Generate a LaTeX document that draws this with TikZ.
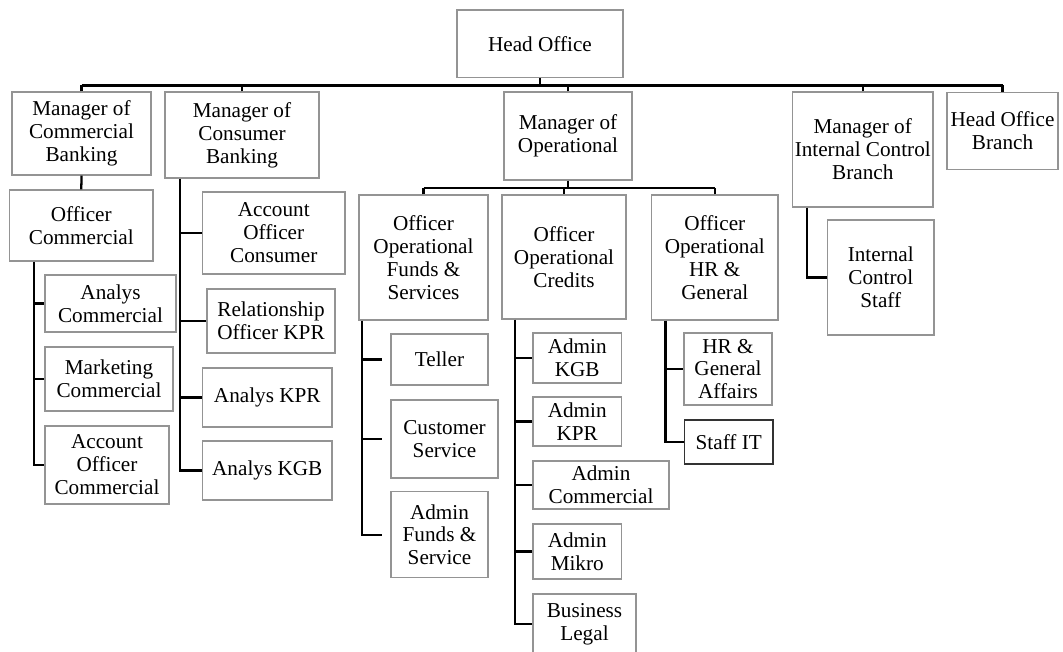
\documentclass[tikz,border=0pt]{standalone}
\usepackage{fontspec}
\setmainfont{Liberation Serif}

\tikzset{every picture/.style={line width=0.75pt}}
\tikzset{
  box/.style={draw=black!42, line width=0.9pt, align=center, inner sep=0.75pt,
    font=\fontsize{15.9}{17.2}\selectfont},
  wh/.style 2 args={minimum width=#1*0.75pt, minimum height=#2*0.75pt},
  link/.style={line width=1.7pt},
}

\begin{document}
\begin{tikzpicture}[x=0.75pt,y=0.75pt,yscale=-1,xscale=1]
    \useasboundingbox (0,0) rectangle (1063,652);
    % bus lines and spines
    \coordinate (bus) at (0,85.5);
    \coordinate (opbus) at (0,188);
    \coordinate (cmx) at (34,0);
    \coordinate (csx) at (180,0);
    \coordinate (fsx) at (362,0);
    \coordinate (crx) at (515,0);
    \coordinate (hrx) at (665.4,0);
    \coordinate (icx) at (806.7,0);
    % Head Office and managers
    \node [box, wh={166}{67.5}] (ho) at (540,43.75) {Head Office};
    \node [box, wh={139}{83}] (mcb) at (81.5,133.5) {Manager of\\Commercial\\Banking};
    \node [box, wh={154}{86}] (mcs) at (242,135) {Manager of\\Consumer\\Banking};
    \node [box, wh={128}{88}] (mop) at (568,136) {Manager of\\Operational};
    \node [box, wh={140.5}{115}] (mic) at (862.75,149.5) {Manager of\\Internal Control\\Branch};
    \node [box, wh={111}{77}] (hob) at (1002.5,131) {Head Office\\Branch};
    % Commercial
    \node [box, wh={143.4}{71}] (oc) at (81.3,225.5) {Officer\\Commercial};
    \node [box, wh={131}{57}] (anc) at (110.5,303.5) {Analys\\Commercial};
    \node [box, wh={128}{64}] (mkc) at (109,379) {Marketing\\Commercial};
    \node [box, wh={124}{78}] (aocm) at (107,465) {Account\\Officer\\Commercial};
    % Consumer
    \node [box, wh={142.5}{82}] (aoc) at (273.75,233) {Account\\Officer\\Consumer};
    \node [box, wh={128}{64}] (rok) at (271,321) {Relationship\\Officer KPR};
    \node [box, wh={129.5}{59}] (akpr) at (267.25,397.5) {Analys KPR};
    \node [box, wh={129.5}{59}] (akgb) at (267.25,470.5) {Analys KGB};
    % Operational officers
    \node [box, wh={129}{125}] (ofs) at (423.5,257.5) {Officer\\Operational\\Funds \&\\Services};
    \node [box, wh={124}{124}] (ocr) at (564,257) {Officer\\Operational\\Credits};
    \node [box, wh={126.4}{125}] (ohr) at (714.8,257.5) {Officer\\Operational\\HR \&\\General};
    % Funds & Services
    \node [box, wh={97}{51}] (tel) at (439.5,359.5) {Teller};
    \node [box, wh={107}{78}] (cus) at (444.5,439) {Customer\\Service};
    \node [box, wh={97}{86}] (afs) at (439.5,534.7) {Admin\\Funds \&\\Service};
    % Credits
    \node [box, wh={88.5}{50}] (adkgb) at (577.25,358) {Admin\\KGB};
    \node [box, wh={88.5}{49}] (adkpr) at (577.25,421.5) {Admin\\KPR};
    \node [box, wh={136}{48}] (adcm) at (601,485) {Admin\\Commercial};
    \node [box, wh={88.5}{55}] (admk) at (577.25,551.5) {Admin\\Mikro};
    \node [box, wh={103}{60}] (bl) at (584.5,624) {Business\\Legal};
    % HR & General
    \node [box, wh={88}{72}] (hrga) at (728,369) {HR \&\\General\\Affairs};
    \node [box, draw=black!80, wh={88.5}{44}] (sit) at (728.75,442) {Staff IT};
    % Internal Control
    \node [box, wh={106.5}{115}] (ics) at (880.75,277.5) {Internal\\Control\\Staff};

    % connectors
    \draw [link] (ho.south) -- (ho.south |- bus);
    \draw [link] (mcb.north |- bus) -- (hob.north |- bus);
    \foreach \n in {mcb,mcs,mop,mic,hob}
      \draw [link] (\n.north) -- (\n.north |- bus);
    \draw [link] (mcb.south) -- (oc.north);
    \draw [link] (oc.south -| cmx) |- (aocm.west);
    \foreach \n in {anc,mkc}
      \draw [link] (cmx |- \n.west) -- (\n.west);
    \draw [link] (mcs.south -| csx) |- (akgb.west);
    \foreach \n in {aoc,rok,akpr}
      \draw [link] (csx |- \n.west) -- (\n.west);
    \draw [link] (mop.south) -- (mop.south |- opbus);
    \draw [link] (ofs.north |- opbus) -- (ohr.north |- opbus);
    \foreach \n in {ofs,ocr,ohr}
      \draw [link] (\n.north) -- (\n.north |- opbus);
    \draw [link, shorten >=6pt] (ofs.south -| fsx) |- (afs.west);
    \foreach \n in {tel,cus}
      \draw [link, shorten >=6pt] (fsx |- \n.west) -- (\n.west);
    \draw [link] (ocr.south -| crx) |- (bl.west);
    \foreach \n in {adkgb,adkpr,adcm,admk}
      \draw [link] (crx |- \n.west) -- (\n.west);
    \draw [link] (ohr.south -| hrx) |- (sit.west);
    \draw [link] (hrx |- hrga.west) -- (hrga.west);
    \draw [link] (mic.south -| icx) |- (ics.west);
\end{tikzpicture}
\end{document}
